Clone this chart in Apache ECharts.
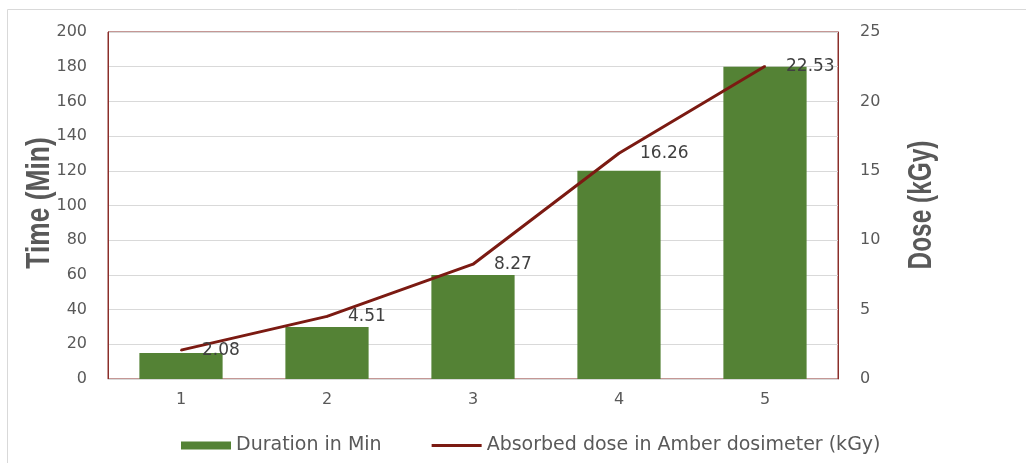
<!DOCTYPE html>
<html>
<head>
<meta charset="utf-8">
<script src="https://cdn.jsdelivr.net/npm/echarts@6/dist/echarts.min.js"></script>
<style>
  html, body { margin: 0; padding: 0; background: #fff; }
  #chart { width: 1026px; height: 463px; }
</style>
</head>
<body>
<div id="chart"></div>
<script>
// Irradiation runs: exposure time and absorbed dose per run
const categories = ['1', '2', '3', '4', '5'];
const durationMin = [15, 30, 60, 120, 180];
const absorbedDose = [2.08, 4.51, 8.27, 16.26, 22.53];
const timeTicks = { min: 0, max: 200, interval: 20 };
const doseTicks = { min: 0, max: 25, interval: 5 };

const chart = echarts.init(document.getElementById('chart'), null, { renderer: 'canvas' });
const tickFont = { color: '#595959', fontSize: 16, fontFamily: 'DejaVu Sans' };
const frameRed = '#8B2E2A';
const doseRed = '#7B1A12';

// Condensed bold axis titles, drawn as rotated text
function axisTitle(text, x, y, squeeze) {
  return {
    type: 'text',
    x: x, y: y,
    rotation: Math.PI / 2,
    scaleX: squeeze,
    silent: true,
    style: {
      text: text,
      fill: '#595959',
      font: 'bold 33px "Liberation Sans"',
      align: 'center',
      verticalAlign: 'middle'
    }
  };
}

chart.setOption({
  animation: false,
  graphic: [{
    type: 'rect',
    shape: { x: 7.5, y: 9.5, width: 1030, height: 470 },
    style: { fill: null, stroke: '#d9d9d9', lineWidth: 1 },
    silent: true
  },
  axisTitle('Time (Min)', 40, 203, 0.8),
  axisTitle('Dose (kGy)', 922, 205, 0.74)
  ],
  grid: {
    left: 108, right: 188, top: 32, bottom: 84,
    show: true, borderColor: frameRed, borderWidth: 1
  },
  legend: {
    bottom: 3, left: 176,
    itemGap: 50, itemWidth: 50, itemHeight: 8,
    textStyle: { color: '#595959', fontSize: 19, fontFamily: 'DejaVu Sans' },
    data: [
      { name: 'Duration in Min', icon: 'rect' },
      {
        name: 'Absorbed dose in Amber dosimeter (kGy)',
        icon: 'path://M0,2.5 L50,2.5 L50,5.5 L0,5.5 Z',
        itemStyle: { color: doseRed }
      }
    ]
  },
  xAxis: {
    type: 'category',
    data: categories,
    axisLine: { lineStyle: { color: '#d9d9d9' } },
    axisTick: { show: false },
    axisLabel: Object.assign({ margin: 13 }, tickFont)
  },
  yAxis: [{
    type: 'value',
    min: timeTicks.min, max: timeTicks.max, interval: timeTicks.interval,
    axisLine: { show: true, lineStyle: { color: frameRed } },
    axisTick: { show: false },
    axisLabel: Object.assign({ margin: 21 }, tickFont),
    splitLine: { lineStyle: { color: '#d9d9d9' } }
  }, {
    type: 'value',
    position: 'right',
    min: doseTicks.min, max: doseTicks.max, interval: doseTicks.interval,
    axisLine: { show: true, lineStyle: { color: frameRed } },
    axisTick: { show: false },
    axisLabel: Object.assign({ margin: 22 }, tickFont),
    splitLine: { show: false }
  }],
  series: [{
    name: 'Duration in Min',
    type: 'bar',
    data: durationMin,
    barWidth: '57%',
    itemStyle: { color: '#548235' }
  }, {
    name: 'Absorbed dose in Amber dosimeter (kGy)',
    type: 'line',
    yAxisIndex: 1,
    data: absorbedDose,
    symbol: 'circle',
    symbolSize: 2,
    showSymbol: true,
    lineStyle: { color: doseRed, width: 3 },
    itemStyle: { color: doseRed },
    label: {
      show: true, position: 'right', distance: 20,
      color: '#404040', fontSize: 17, fontFamily: 'DejaVu Sans'
    }
  }]
});
</script>
</body>
</html>
